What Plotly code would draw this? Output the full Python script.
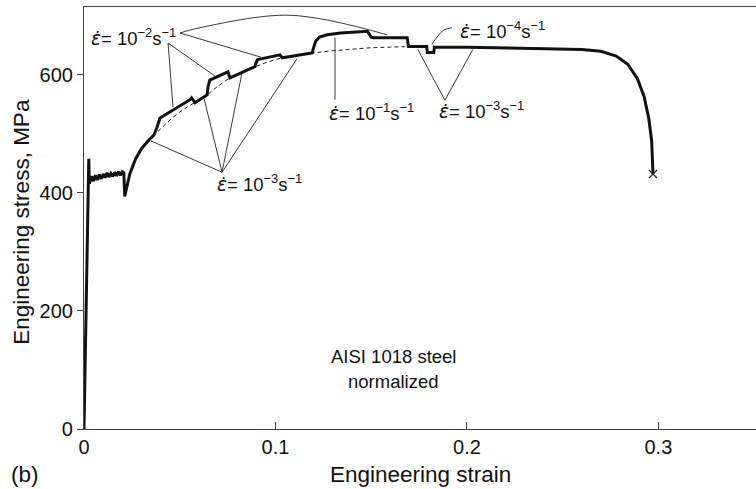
import plotly.graph_objects as go

# ---- data ----
strain_main = [0, 0.0025, 0.0028, 0.0040, 0.0050, 0.0060, 0.0070, 0.0080, 0.0090, 0.0100,
               0.0110, 0.0120, 0.0130, 0.0140, 0.0150, 0.0160, 0.0170, 0.0180, 0.0190, 0.0200,
               0.0208, 0.0213, 0.0220, 0.0240, 0.0270, 0.0300, 0.0340, 0.0365, 0.0380, 0.0397,
               0.0554, 0.0562, 0.0580, 0.0643, 0.0648, 0.0657, 0.0752, 0.0762, 0.0893, 0.0898,
               0.0907, 0.1024, 0.1035, 0.1192, 0.1198, 0.1210, 0.1230, 0.1270, 0.1340, 0.1480,
               0.1500, 0.1515, 0.1688, 0.1695, 0.1790, 0.1793, 0.1827, 0.1830, 0.2000, 0.2200,
               0.2400, 0.2600, 0.2700, 0.2780, 0.2840, 0.2890, 0.2925, 0.2950, 0.2965, 0.2972]
stress_main = [0, 458, 416, 428, 420, 430, 422, 431, 424, 432,
               426, 434, 427, 433, 428, 435, 429, 436, 430, 436,
               434, 394, 405, 433, 458, 475, 490, 498, 510, 527,
               558, 561, 553, 566, 580, 591, 605, 595, 614, 620,
               626, 634, 629, 637, 645, 657, 664, 668, 671, 674,
               664, 663, 663, 648, 648, 638, 638, 647, 647, 646,
               645, 643, 640, 632, 618, 594, 564, 526, 488, 432]

strain_base = [0.0360, 0.0400, 0.0450, 0.0500, 0.0550, 0.0580, 0.0643, 0.0700, 0.0762, 0.0830,
               0.0893, 0.0960, 0.1035, 0.1110, 0.1192, 0.1300, 0.1400, 0.1500, 0.1600, 0.1695]
stress_base = [496, 509, 524, 537, 548, 553, 566, 581, 595, 606,
               614, 622, 629, 633, 637, 641, 644, 646, 647, 648]

fracture_strain = [0.2972]
fracture_stress = [432]

# leader lines (strain, stress) pairs
leader_1e2_a = ([0.0439, 0.0465], [654, 545])
leader_1e2_b = ([0.0439, 0.0684], [654, 598])
leader_1e2_c = ([0.0501, 0.0924], [671, 630])
leader_1e2_arc = ([0.0501, 0.0606, 0.1076, 0.1582], [671, 680, 701, 668])
leader_1e3_a = ([0.0721, 0.0350], [435, 488])
leader_1e3_b = ([0.0721, 0.0627], [435, 560])
leader_1e3_c = ([0.0721, 0.0825], [435, 603])
leader_1e3_d = ([0.0721, 0.1112], [435, 627])
leader_1e1 = ([0.1311, 0.1311], [663, 558])
leader_1e3r_a = ([0.1885, 0.1744], [557, 643])
leader_1e3r_b = ([0.1885, 0.2031], [557, 643])
leader_1e4 = ([0.1922, 0.1880, 0.1849, 0.1817], [680, 676, 666, 652])

x_tickvals = [0, 0.1, 0.2, 0.3]
x_ticktext = ["0", "0.1", "0.2", "0.3"]
y_tickvals = [0, 200, 400, 600]
y_ticktext = ["0", "200", "400", "600"]

FONT = "Liberation Sans, Arial, Helvetica, sans-serif"
EPS = '<span style="font-family:DejaVu Sans"><i>\u03b5\u0307</i></span>'

fig = go.Figure()

for xs, ys in [leader_1e2_a, leader_1e2_b, leader_1e2_c, leader_1e3_a, leader_1e3_b,
               leader_1e3_c, leader_1e3_d, leader_1e1, leader_1e3r_a, leader_1e3r_b]:
    fig.add_trace(go.Scatter(x=xs, y=ys, mode="lines",
                             line=dict(color="#222", width=0.9), hoverinfo="skip"))
for xs, ys in [leader_1e2_arc, leader_1e4]:
    fig.add_trace(go.Scatter(x=xs, y=ys, mode="lines",
                             line=dict(color="#222", width=0.9, shape="spline"), hoverinfo="skip"))

fig.add_trace(go.Scatter(x=strain_base, y=stress_base, mode="lines",
                         line=dict(color="#222", width=1, dash="4px,3px")))
fig.add_trace(go.Scatter(x=strain_main, y=stress_main, mode="lines",
                         line=dict(color="#111", width=3, shape="linear")))
fig.add_trace(go.Scatter(x=fracture_strain, y=fracture_stress, mode="markers",
                         marker=dict(symbol="x-thin", size=8, line=dict(color="#222", width=1.2))))

ann_font = dict(family=FONT, size=18.5, color="#111")
anns = [
    dict(x=0.0026, y=665, text=EPS + "= 10<sup>\u22122</sup>s<sup>\u22121</sup>", xanchor="left"),
    dict(x=0.0684, y=417, text=EPS + "= 10<sup>\u22123</sup>s<sup>\u22121</sup>", xanchor="left"),
    dict(x=0.1269, y=537, text=EPS + "= 10<sup>\u22121</sup>s<sup>\u22121</sup>", xanchor="left"),
    dict(x=0.1843, y=541, text=EPS + "= 10<sup>\u22123</sup>s<sup>\u22121</sup>", xanchor="left"),
    dict(x=0.1953, y=676, text=EPS + "= 10<sup>\u22124</sup>s<sup>\u22121</sup>", xanchor="left"),
    dict(x=0.1614, y=122, text="AISI 1018 steel", xanchor="center"),
    dict(x=0.1614, y=81, text="normalized", xanchor="center"),
]
for a in anns:
    fig.add_annotation(xref="x", yref="y", showarrow=False, yanchor="middle",
                       font=ann_font, **a)

title_font = dict(family=FONT, size=22.5, color="#111")
fig.add_annotation(xref="paper", yref="paper", x=0.5, y=-0.107, text="Engineering strain",
                   showarrow=False, font=title_font, xanchor="center", yanchor="middle")
fig.add_annotation(xref="paper", yref="paper", x=-0.093, y=0.49, text="Engineering stress, MPa",
                   showarrow=False, font=title_font, textangle=-90, xanchor="center", yanchor="middle")
fig.add_annotation(xref="paper", yref="paper", x=-0.112, y=-0.107, text="(b)",
                   showarrow=False, font=title_font, xanchor="left", yanchor="middle")

fig.update_layout(
    width=756, height=489,
    margin=dict(l=84, r=0, t=7, b=60),
    paper_bgcolor="white", plot_bgcolor="white",
    showlegend=False,
    xaxis=dict(range=[0, 0.351], tickvals=x_tickvals, ticktext=x_ticktext,
               ticks="inside", ticklen=7, tickcolor="#444", showline=True, linecolor="#444",
               linewidth=1.2, mirror=True, showgrid=False, zeroline=False,
               tickfont=dict(family=FONT, size=20, color="#111")),
    yaxis=dict(range=[0, 715], tickvals=y_tickvals, ticktext=y_ticktext,
               ticks="outside", ticklen=6, tickcolor="#444", showline=True, linecolor="#444",
               linewidth=1.2, showgrid=False, zeroline=False,
               tickfont=dict(family=FONT, size=20, color="#111")),
)

fig.write_html("out.html", config={"displayModeBar": False},
               post_script="document.body.style.margin='0px';")
